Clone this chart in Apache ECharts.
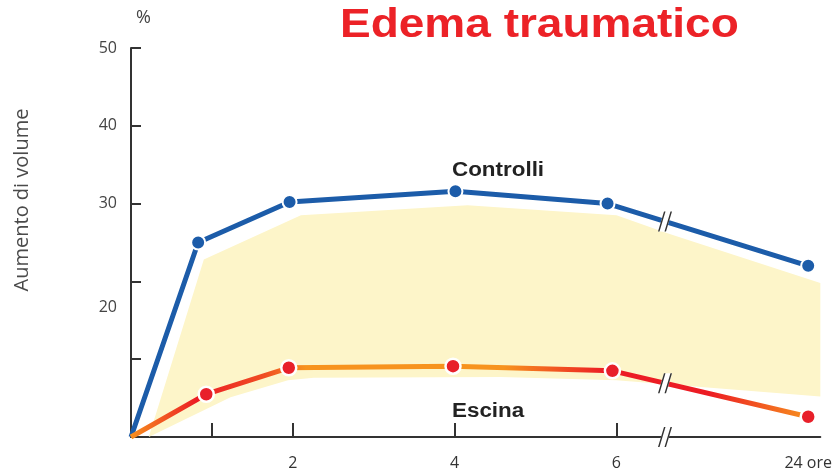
<!DOCTYPE html>
<html>
<head>
<meta charset="utf-8">
<script src="https://cdn.jsdelivr.net/npm/echarts@6/dist/echarts.min.js"></script>
<style>
  html, body { margin: 0; padding: 0; background: #fff; }
  #chart { width: 835px; height: 473px; }
</style>
</head>
<body>
<div id="chart"></div>
<script>
// ore (24h posto a 8.37 sull'asse spezzato)
const xCtrl = [0, 0.83, 1.96, 4.01, 5.89, 8.37]
const yCtrl = [0, 25.0, 30.2, 31.6, 30.0, 22.0]
const xEsc = [0, 0.93, 1.95, 3.98, 5.95, 8.37]
const yEsc = [0, 5.5, 8.9, 9.1, 8.5, 2.6]
// banda gialla
const bandTopX = [0.22, 0.9, 2.1, 4.16, 6.0, 6.63, 8.52]
const bandTopY = [0, 22.8, 28.5, 29.8, 28.5, 26.2, 19.8]
const bandBotX = [0.22, 1.23, 1.94, 2.26, 4.57, 6.0, 8.52]
const bandBotY = [0, 5.1, 7.3, 7.6, 7.7, 7.3, 5.2]
const xTickValues = [1, 2, 4, 6]
const xLabelValues = [2, 4, 6, 8.37]
const xLabelTexts = ['2', '4', '6', '24 ore']
const yTickLabels = [20, 30, 40, 50]
const breakX = 6.6

function interp(xs, ys, x) {
  for (let i = 1; i < xs.length; i++) {
    if (x <= xs[i]) {
      const t = (x - xs[i - 1]) / (xs[i] - xs[i - 1])
      return ys[i - 1] + t * (ys[i] - ys[i - 1])
    }
  }
  return ys[ys.length - 1]
}

const pairs = (xs, ys) => xs.map((x, i) => i === 0 ? {value: [x, ys[i]], symbol: 'none'} : [x, ys[i]])

// segno di interruzione "//"
const breakData = y => [
  {coord: [breakX, y], symbol: 'path://M0,20 L6,0 L14,0 L8,20 Z', symbolSize: [14, 20], itemStyle: {color: '#fff'}},
  {coord: [breakX, y], symbol: 'path://M0,20 L6,0 L7.5,0 L1.5,20 Z M6.5,20 L12.5,0 L14,0 L8,20 Z', symbolSize: [14, 20], itemStyle: {color: '#333'}}
]

const myChart = echarts.init(document.getElementById('chart'))
const options = {
  animation: false,
  grid: {left: 131, right: 13, top: 48, bottom: 36},
  graphic: [
    {
      type: 'text', left: 340, top: 6, scaleX: 1.15,
      style: {text: 'Edema traumatico', fill: '#ec2227', font: 'bold 40px "Liberation Sans", Arial, sans-serif'}
    },
    {
      type: 'text', x: 136, y: 9,
      style: {text: '%', fill: '#444', font: '18px "Open Sans", sans-serif'}
    },
    {
      type: 'text', x: 22, y: 200, rotation: Math.PI / 2,
      style: {text: 'Aumento di volume', fill: '#4a4a4a', font: '20px "Open Sans", sans-serif', align: 'center', verticalAlign: 'middle'}
    },
    {
      type: 'text', x: 452, y: 160, scaleX: 1.12,
      style: {text: 'Controlli', fill: '#222', font: 'bold 20px "Liberation Sans", Arial, sans-serif'}
    },
    {
      type: 'text', x: 452, y: 401, scaleX: 1.12,
      style: {text: 'Escina', fill: '#222', font: 'bold 20px "Liberation Sans", Arial, sans-serif'}
    }
  ],
  xAxis: {
    type: 'value',
    min: 0,
    max: 8.52,
    splitLine: {show: false},
    axisLine: {lineStyle: {color: '#333', width: 2}},
    axisTick: {show: true, inside: true, length: 14, customValues: xTickValues, lineStyle: {color: '#333', width: 2}},
    axisLabel: {
      customValues: xLabelValues,
      margin: 18,
      color: '#333',
      fontSize: 16,
      fontFamily: 'Open Sans',
      formatter: v => xLabelTexts[xLabelValues.indexOf(v)] || ''
    }
  },
  yAxis: {
    type: 'value',
    min: 0,
    max: 50,
    interval: 10,
    splitLine: {show: false},
    axisLine: {show: true, lineStyle: {color: '#333', width: 2}},
    axisTick: {show: true, inside: true, length: 10, lineStyle: {color: '#333', width: 2}},
    axisLabel: {
      margin: 14,
      color: '#444',
      fontSize: 16,
      fontFamily: 'Open Sans',
      formatter: v => v === 20 ? '{low|20}' : (yTickLabels.includes(v) ? String(v) : ''),
      rich: {low: {padding: [52, 0, 0, 0], fontSize: 16, color: '#444', fontFamily: 'Open Sans'}}
    }
  },
  series: [
    {
      type: 'custom',
      silent: true,
      z: 1,
      data: [0],
      renderItem: (params, api) => {
        const pts = bandTopX.map((x, i) => api.coord([x, bandTopY[i]]))
          .concat(bandBotX.map((x, i) => api.coord([x, bandBotY[i]])).reverse())
        return {type: 'polygon', shape: {points: pts}, style: {fill: '#fdf5c9'}}
      }
    },
    {
      name: 'Controlli',
      type: 'line',
      z: 3,
      data: pairs(xCtrl, yCtrl),
      symbol: 'circle',
      symbolSize: 14,
      lineStyle: {color: '#1c5ca9', width: 5},
      itemStyle: {color: '#1c5ca9', borderColor: '#fff', borderWidth: 2},
      markPoint: {
        silent: true,
        label: {show: false},
        data: breakData(interp(xCtrl, yCtrl, breakX)).concat(breakData(0))
      }
    },
    {
      name: 'Escina',
      type: 'line',
      z: 3,
      data: pairs(xEsc, yEsc),
      symbol: 'circle',
      symbolSize: 15,
      lineStyle: {
        width: 5,
        color: {
          type: 'linear', x: 0, y: 0, x2: 1, y2: 0,
          colorStops: [
            {offset: 0, color: '#f7931e'},
            {offset: 0.1, color: '#ec1c24'},
            {offset: 0.2, color: '#f04e23'},
            {offset: 0.26, color: '#f7931e'},
            {offset: 0.55, color: '#f7931e'},
            {offset: 0.7, color: '#ec1c24'},
            {offset: 0.85, color: '#ec1c24'},
            {offset: 1, color: '#f7931e'}
          ]
        }
      },
      itemStyle: {color: '#e8202a', borderColor: '#fff', borderWidth: 2.5},
      markPoint: {
        silent: true,
        label: {show: false},
        data: breakData(interp(xEsc, yEsc, breakX))
      }
    }
  ]
}
myChart.setOption(options)
window.addEventListener('resize', () => {
  myChart.resize()
})
</script>
</body>
</html>
